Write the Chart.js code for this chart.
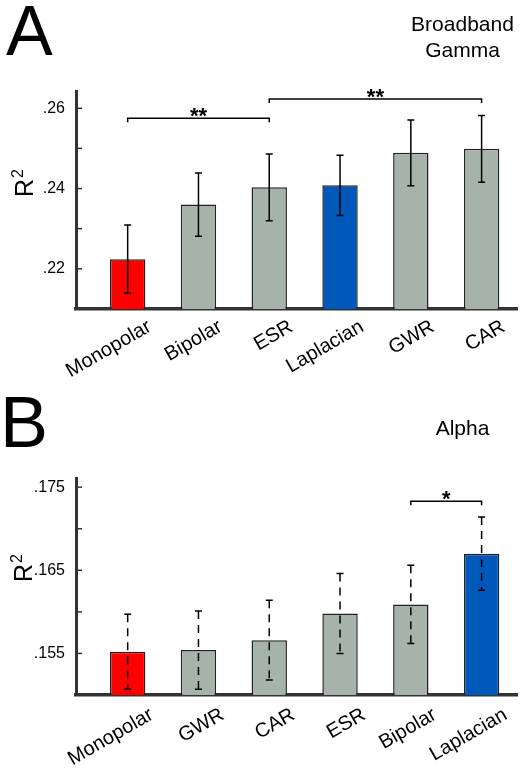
<!DOCTYPE html>
<html lang="en">
<head>
<meta charset="UTF-8">
<title>R2 per referencing scheme</title>
<script src="https://cdn.jsdelivr.net/npm/chart.js"></script>
<style>
  body { margin: 0; background: #fff; font-family: "Liberation Sans", Arial, sans-serif; }
  #wrap { position: relative; width: 525px; height: 774px; overflow: hidden; }
  canvas { position: absolute; left: 0; }
  .letter { position: absolute; color: #000; }
  .band { position: absolute; left: 402px; width: 121px; text-align: center; font-size: 21px; line-height: 26px; color: #000; }
</style>
</head>
<body>
<div id="wrap">
  <canvas id="chartA" width="525" height="385" style="top:0"></canvas>
  <canvas id="chartB" width="525" height="389" style="top:385px"></canvas>
  <div class="letter" style="left:6px; top:-4px; font-size:70px; line-height:70px;">A</div>
  <div class="band" style="top:11px;">Broadband<br>Gamma</div>
  <div class="letter" style="left:0px; top:386px; font-size:72px; line-height:72px;">B</div>
  <div class="band" style="top:415px;">Alpha</div>
</div>

<script>
// panel A: broadband gamma
const catsA = ['Monopolar', 'Bipolar', 'ESR', 'Laplacian', 'GWR', 'CAR'];
const valsA = [0.2224, 0.2360, 0.2403, 0.2408, 0.2489, 0.2499];
const errA  = [0.0085, 0.0079, 0.0083, 0.0075, 0.0082, 0.0083];
const colorsA = ['#ff0000', '#a5b3ab', '#a5b3ab', '#0058bb', '#a5b3ab', '#a5b3ab'];
const tickValsA = [0.22, 0.23, 0.24, 0.25, 0.26];
const tickLabelsA = ['.22', '', '.24', '', '.26'];
// [from, to, level, stars]
const bracketsA = [[0, 2, 0.2575, '**'], [2, 5, 0.2623, '**']];

// panel B: alpha
const catsB = ['Monopolar', 'GWR', 'CAR', 'ESR', 'Bipolar', 'Laplacian'];
const valsB = [0.1552, 0.1554, 0.1566, 0.1598, 0.1609, 0.1670];
const errB  = [0.0045, 0.0047, 0.0048, 0.0048, 0.0047, 0.0044];
const colorsB = ['#ff0000', '#a5b3ab', '#a5b3ab', '#a5b3ab', '#a5b3ab', '#0058bb'];
const tickValsB = [0.155, 0.16, 0.165, 0.17, 0.175];
const tickLabelsB = ['.155', '', '.165', '', '.175'];
const bracketsB = [[4, 5, 0.1733, '*']];

Chart.defaults.font.family = '"Liberation Sans", Arial, sans-serif';
Chart.defaults.color = '#000';

// error bars, brackets, inward ticks, R^2 label
const extras = {
  id: 'extras',
  afterDatasetsDraw(chart, args, o) {
    const ctx = chart.ctx;
    const xs = chart.scales.x, ys = chart.scales.y;
    const bars = chart.getDatasetMeta(0).data;
    ctx.save();

    ctx.strokeStyle = '#333';
    ctx.lineWidth = 1.5;
    ys.ticks.forEach(t => {
      const y = ys.getPixelForValue(t.value);
      ctx.beginPath(); ctx.moveTo(xs.left, y); ctx.lineTo(xs.left + 6, y); ctx.stroke();
    });

    ctx.strokeStyle = '#000';
    o.err.forEach((e, i) => {
      const x = bars[i].x;
      const y1 = ys.getPixelForValue(o.vals[i] + e);
      const y2 = ys.getPixelForValue(o.vals[i] - e);
      ctx.setLineDash(o.dash);
      ctx.beginPath(); ctx.moveTo(x, y1); ctx.lineTo(x, y2); ctx.stroke();
      ctx.setLineDash([]);
      ctx.beginPath();
      ctx.moveTo(x - 3.5, y1); ctx.lineTo(x + 3.5, y1);
      ctx.moveTo(x - 3.5, y2); ctx.lineTo(x + 3.5, y2);
      ctx.stroke();
    });

    ctx.font = 'bold 22px "Liberation Sans", Arial, sans-serif';
    ctx.textAlign = 'center';
    ctx.textBaseline = 'alphabetic';
    ctx.fillStyle = '#000';
    o.brackets.forEach(([a, b, lv, s]) => {
      const xa = bars[a].x, xb = bars[b].x, y = ys.getPixelForValue(lv);
      ctx.beginPath();
      ctx.moveTo(xa, y + 4); ctx.lineTo(xa, y); ctx.lineTo(xb, y); ctx.lineTo(xb, y + 4);
      ctx.stroke();
      ctx.fillText(s, (xa + xb) / 2, y + 5);
    });

    // R^2 axis title
    ctx.translate(o.rx, o.ry);
    ctx.rotate(-Math.PI / 2);
    ctx.textAlign = 'left';
    ctx.font = '25px "Liberation Sans", Arial, sans-serif';
    ctx.fillText('R', 0, 0);
    const w = ctx.measureText('R').width;
    ctx.font = '16px "Liberation Sans", Arial, sans-serif';
    ctx.fillText('2', w + 1, -10);
    ctx.restore();
  }
};

function makeChart(id, cats, vals, errs, colors, tickVals, tickLabels, yMin, yMax, brackets, opts) {
  return new Chart(document.getElementById(id), {
    type: 'bar',
    data: {
      datasets: [{
        data: vals.map((v, i) => ({ x: i, y: v })),
        backgroundColor: colors,
        borderColor: '#222',
        borderWidth: 1.5,
        borderSkipped: false,
        barPercentage: 0.5,
        categoryPercentage: 1
      }]
    },
    options: {
      responsive: false,
      animation: false,
      layout: { padding: { top: opts.top, right: 8, left: 0, bottom: 0 } },
      plugins: {
        legend: { display: false },
        tooltip: { enabled: false },
        extras: { vals: vals, err: errs, dash: opts.dash, brackets: brackets, rx: opts.rx, ry: opts.ry }
      },
      scales: {
        x: {
          type: 'linear',
          min: -0.73,
          max: 5.5,
          offset: false,
          grid: { display: false, drawTicks: false },
          border: { color: '#333', width: 3.5 },
          afterBuildTicks: s => { s.ticks = cats.map((c, i) => ({ value: i })); },
          afterFit: s => { s.height = opts.xh; },
          ticks: {
            autoSkip: false,
            minRotation: 30,
            maxRotation: 30,
            labelOffset: opts.lo,
            padding: opts.pad,
            font: { size: 20 },
            callback: v => cats[v]
          }
        },
        y: {
          min: yMin,
          max: yMax,
          grid: { display: false, drawTicks: false },
          border: { color: '#333', width: 3 },
          afterBuildTicks: s => { s.ticks = tickVals.map(v => ({ value: v })); },
          afterFit: s => { s.width = 76; },
          ticks: {
            padding: 11,
            font: { size: 16 },
            callback: (v, i) => tickLabels[i]
          }
        }
      }
    },
    plugins: [extras]
  });
}

makeChart('chartA', catsA, valsA, errA, colorsA, tickValsA, tickLabelsA, 0.21, 0.2643, bracketsA,
  { top: 91, xh: 76, dash: [], rx: 33, ry: 197, lo: 22, pad: 6 });
makeChart('chartB', catsB, valsB, errB, colorsB, tickValsB, tickLabelsB, 0.150, 0.1761, bracketsB,
  { top: 93, xh: 79, dash: [8, 6], rx: 32, ry: 197, lo: 24, pad: 8 });
</script>
</body>
</html>
